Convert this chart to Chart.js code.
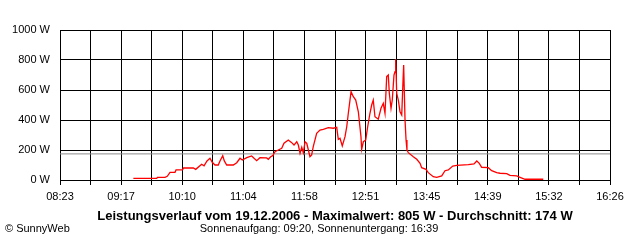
<!DOCTYPE html>
<html>
<head>
<meta charset="utf-8">
<script src="https://cdn.jsdelivr.net/npm/chart.js@4"></script>
<style>
  body { margin: 0; background: #fff; }
  canvas { display: block; }
</style>
</head>
<body>
<canvas id="chart" width="640" height="240"></canvas>
<script>
// sample times in minutes after midnight
const sampleMinutes = [
  567.4, 587.9, 588.6, 595.2, 597.2, 599.6, 604, 604.9, 610.6, 611.5,
  620.1, 622.2, 627.4, 629.5, 632.1, 634.7, 636.7, 639.1, 642, 643.5,
  645.9, 647.3, 649.4, 655.2, 658.2, 661.1, 663.1, 667, 671.3, 675.7,
  678.6, 684.5, 685.9, 688, 689.8, 691.8, 694.7, 697.7, 699.7, 703.5,
  706.5, 708.5, 710.9, 712.3, 713.8, 715.3, 716.7, 718.2, 719.7, 721.1,
  722.5, 724, 725.4, 728.4, 731.3, 734.2, 738.6, 743, 746, 747.4,
  748.9, 750.9, 753.3, 754.8, 756.2, 758.6, 760.6, 762.7, 765, 767.3,
  767.9, 769.4, 771.5, 773.2, 775.2, 776.7, 778.1, 779.6, 782.5, 784.9,
  786.9, 788.4, 789.9, 791.3, 792.2, 793.7, 794.8, 796.3, 797.2, 797.8,
  798.7, 800.1, 801.6, 803.1, 804.2, 804.8, 806, 806.9, 807.7, 808.9,
  813.3, 816.3, 819.2, 820.6, 824.4, 826.4, 830.8, 833.8, 838.2, 841.1,
  844, 847.9, 851.4, 861.6, 866.6, 869, 871.2, 873.3, 879.1, 882.1,
  886.5, 889.4, 895.3, 898.2, 904.1, 907, 911.4, 927.4
];
const powerWatts = [
  11, 11, 18, 18, 25, 51, 51, 67, 67, 80,
  80, 71, 105, 95, 127, 145, 118, 100, 100, 127,
  162, 127, 100, 100, 115, 145, 133, 149, 160, 129,
  149, 147, 138, 155, 162, 189, 200, 211, 245, 267,
  249, 233, 255, 233, 178, 218, 182, 255, 245, 200,
  155, 167, 222, 311, 333, 338, 349, 345, 351, 271,
  278, 227, 289, 355, 445, 589, 555, 533, 455, 289,
  205, 255, 267, 355, 445, 500, 533, 422, 405, 478,
  511, 445, 689, 700, 578, 478, 533, 700, 722, 805,
  578, 533, 455, 433, 655, 767, 400, 267, 200, 182,
  155, 138, 111, 82, 71, 49, 22, 18, 27, 62,
  67, 93, 98, 102, 107, 127, 111, 85, 82, 62,
  49, 45, 42, 31, 27, 18, 5, 5
];
const averageWatts = 174;

const timeTickLabels = ['08:23', '09:17', '10:10', '11:04', '11:58', '12:51', '13:45', '14:39', '15:32', '16:26'];
const axisStart = 503; // 08:23
const axisEnd = 986;   // 16:26
const gridSteps = 18;

const titleText = 'Leistungsverlauf vom 19.12.2006 - Maximalwert: 805 W - Durchschnitt: 174 W';
const sunText = 'Sonnenaufgang: 09:20, Sonnenuntergang: 16:39';
const creditText = '\u00A9 SunnyWeb';

const FONT = '"Liberation Sans", Arial, sans-serif';

const footerTexts = {
  id: 'footerTexts',
  afterDraw(chart) {
    const ctx = chart.ctx;
    const area = chart.chartArea;
    ctx.save();
    ctx.fillStyle = '#000';
    ctx.textBaseline = 'middle';
    ctx.textAlign = 'center';
    ctx.font = 'bold 13px ' + FONT;
    ctx.fillText(titleText, (area.left + area.right) / 2, 216);
    ctx.font = '11px ' + FONT;
    ctx.fillText(sunText, 319, 229);
    ctx.textAlign = 'left';
    ctx.fillText(creditText, 5, 229);
    ctx.restore();
  }
};

new Chart(document.getElementById('chart'), {
  type: 'line',
  data: {
    datasets: [
      {
        data: sampleMinutes.map((t, i) => ({ x: t, y: powerWatts[i] })),
        borderColor: '#ff0000',
        borderWidth: 1.3,
        pointRadius: 0,
        tension: 0,
        fill: false,
      },
      {
        data: [{ x: axisStart, y: averageWatts }, { x: axisEnd, y: averageWatts }],
        borderColor: '#8c8c8c',
        borderWidth: 1,
        pointRadius: 0,
        fill: false,
      },
    ],
  },
  options: {
    responsive: false,
    animation: false,
    events: [],
    layout: { padding: { top: 30, right: 30, left: 0, bottom: 0 } },
    plugins: { legend: { display: false }, tooltip: { enabled: false } },
    scales: {
      x: {
        type: 'linear',
        min: axisStart,
        max: axisEnd,
        afterBuildTicks(scale) {
          scale.ticks = [];
          for (let i = 0; i <= gridSteps; i++) {
            scale.ticks.push({ value: axisStart + i * (axisEnd - axisStart) / gridSteps });
          }
        },
        afterFit(scale) { scale.height = 60; },
        grid: { color: '#000', lineWidth: 1, tickLength: 5, drawTicks: true },
        border: { color: '#000' },
        ticks: {
          autoSkip: false,
          maxRotation: 0,
          padding: 5,
          color: '#000',
          font: { family: FONT, size: 11 },
          callback: (v, i) => (i % 2 === 0 ? timeTickLabels[i / 2] : ''),
        },
      },
      y: {
        min: 0,
        max: 1000,
        afterFit(scale) { scale.width = 60; },
        grid: { color: '#000', lineWidth: 1, drawTicks: false },
        border: { color: '#000' },
        ticks: {
          stepSize: 200,
          padding: 10,
          color: '#000',
          font: { family: FONT, size: 11 },
          callback: v => v + ' W',
        },
      },
    },
  },
  plugins: [footerTexts],
});
</script>
</body>
</html>
